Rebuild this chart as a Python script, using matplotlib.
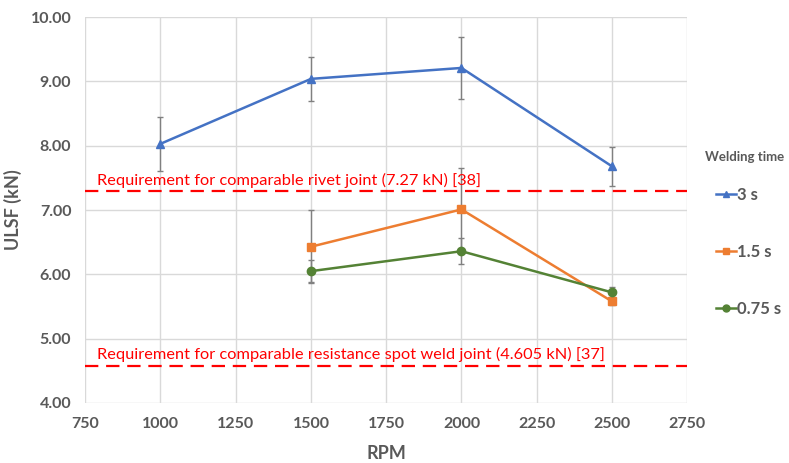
import matplotlib.pyplot as plt

plt.rcParams['font.family'] = ['Lato', 'DejaVu Sans']

rpm_3s = [1000, 1500, 2000, 2500]
ulsf_3s = [8.03, 9.04, 9.21, 7.68]
err_3s = [0.42, 0.34, 0.48, 0.30]

rpm_15s = [1500, 2000, 2500]
ulsf_15s = [6.43, 7.01, 5.58]
err_15s = [0.57, 0.64, 0.06]

rpm_075s = [1500, 2000, 2500]
ulsf_075s = [6.05, 6.36, 5.72]
err_075s = [0.17, 0.20, 0.08]

rivet_req = 7.29
spot_req = 4.58

gray = '#595959'

fig = plt.figure(figsize=(7.89, 4.63), dpi=100)
ax = fig.add_axes([0.108, 0.1296, 0.763, 0.8334])

ax.errorbar(rpm_3s, ulsf_3s, yerr=err_3s, color='#4472C4', marker='^', markersize=6,
            linewidth=1.8, ecolor='#808080', elinewidth=1, capsize=2, label='3 s', zorder=3)
ax.errorbar(rpm_15s, ulsf_15s, yerr=err_15s, color='#ED7D31', marker='s', markersize=6,
            linewidth=1.8, ecolor='#808080', elinewidth=1, capsize=2, label='1.5 s', zorder=3)
ax.errorbar(rpm_075s, ulsf_075s, yerr=err_075s, color='#548235', marker='o', markersize=6,
            linewidth=1.8, ecolor='#808080', elinewidth=1, capsize=2, label='0.75 s', zorder=3)

ax.axhline(rivet_req, color='#FF0000', linestyle=(0, (6, 3.5)), linewidth=1.6, zorder=2)
ax.axhline(spot_req, color='#FF0000', linestyle=(0, (6, 3.5)), linewidth=1.6, zorder=2)
ax.text(790, rivet_req + 0.06, 'Requirement for comparable rivet joint (7.27 kN) [38]',
        color='#FF0000', fontsize=11.8, va='bottom')
ax.text(790, spot_req + 0.06, 'Requirement for comparable resistance spot weld joint (4.605 kN) [37]',
        color='#FF0000', fontsize=11.8, va='bottom')

ax.set_xlim(750, 2750)
ax.set_ylim(4, 10)
ax.set_xticks(range(750, 2751, 250))
ax.set_yticks(range(4, 11))
ax.set_yticklabels([f'{v:.2f}' for v in range(4, 11)])
ax.grid(True, color='#D9D9D9', linewidth=1)
ax.set_axisbelow(True)
for s in ax.spines.values():
    s.set_visible(False)
ax.tick_params(length=0, labelsize=11.5, labelcolor=gray, pad=10)
for lbl in ax.get_xticklabels() + ax.get_yticklabels():
    lbl.set_fontweight('bold')

ax.set_xlabel('RPM', fontsize=13, fontweight='bold', color=gray, labelpad=10)
ax.set_ylabel('ULSF (kN)', fontsize=13, fontweight='bold', color=gray, labelpad=6)

# legend title as separate text so the gap matches
fig.text(0.893, 1 - 157 / 463, 'Welding time', fontsize=9.5, fontweight='bold',
         color=gray, va='center', ha='left')

handles, labels = ax.get_legend_handles_labels()
handles = [h[0] for h in handles]
leg = fig.legend(handles, labels, loc='upper left',
                 bbox_to_anchor=(0.888, 1 - 172 / 463), frameon=False, handlelength=1.2,
                 handletextpad=0.1, labelspacing=2.45, fontsize=12)
for t in leg.get_texts():
    t.set_color(gray)
    t.set_fontweight('bold')
for h in leg.legend_handles:
    h.set_markersize(5)

fig.savefig('out.png', dpi=100)
